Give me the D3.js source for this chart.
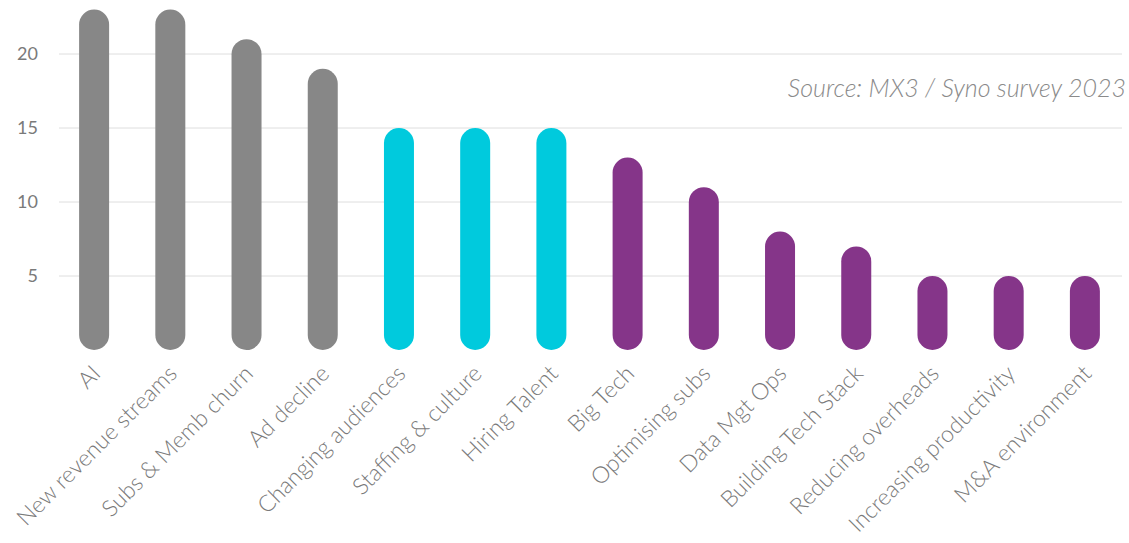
<!DOCTYPE html>
<html>
<head>
<meta charset="utf-8">
<script src="https://cdn.jsdelivr.net/npm/d3@7"></script>
<style>
  body { margin: 0; background: #ffffff; }
  svg { display: block; font-family: Lato, "Open Sans", sans-serif; }
</style>
</head>
<body>
<svg id="chart"></svg>
<script>
// chart data
const categories = ['AI', 'New revenue streams', 'Subs & Memb churn', 'Ad decline',
    'Changing audiences', 'Staffing & culture', 'Hiring Talent', 'Big Tech',
    'Optimising subs', 'Data Mgt Ops', 'Building Tech Stack', 'Reducing overheads',
    'Increasing productivity', 'M&A environment'];
const values = [23, 23, 21, 19, 15, 15, 15, 13, 11, 8, 7, 5, 5, 5];
const groups = ['grey', 'grey', 'grey', 'grey', 'cyan', 'cyan', 'cyan',
    'purple', 'purple', 'purple', 'purple', 'purple', 'purple', 'purple'];
const yticks = [5, 10, 15, 20];
const source_text = 'Source: MX3 / Syno survey 2023';

const width = 1129, height = 543;
const colors = { grey: '#878787', cyan: '#00cadd', purple: '#853589' };

const svg = d3.select('#chart')
    .attr('width', width)
    .attr('height', height);

const xscale = d3.scaleBand()
    .domain(categories)
    .range([56, 1123])
    .paddingInner(0.6)
    .paddingOuter(0.3);

const yscale = d3.scaleLinear()
    .domain([0, 20])
    .range([350, 54]);

// gridlines
svg.append('g')
    .selectAll('line')
    .data(yticks)
    .join('line')
    .attr('x1', 59)
    .attr('x2', 1122)
    .attr('y1', d => yscale(d))
    .attr('y2', d => yscale(d))
    .attr('stroke', '#dedede')
    .attr('stroke-width', 1);

// y axis labels
const yaxis = d3.axisLeft(yscale)
    .tickValues(yticks)
    .tickSize(0)
    .tickPadding(0);

const yaxis_group = svg.append('g')
    .attr('transform', 'translate(38, 0)')
    .call(yaxis);
yaxis_group.select('.domain').remove();
yaxis_group.selectAll('text')
    .style('font-size', '18px')
    .style('font-family', 'Lato, sans-serif')
    .attr('fill', '#7a7a7a');

// pill bars
const bw = 30;
svg.append('g')
    .selectAll('rect')
    .data(values)
    .join('rect')
    .attr('x', (d, i) => xscale(categories[i]) + xscale.bandwidth() / 2 - bw / 2)
    .attr('y', d => yscale(d))
    .attr('width', bw)
    .attr('height', d => yscale(0) - yscale(d))
    .attr('rx', bw / 2)
    .attr('ry', bw / 2)
    .attr('fill', (d, i) => colors[groups[i]]);

// category labels
svg.append('g')
    .selectAll('text')
    .data(categories)
    .join('text')
    .attr('transform', d => `translate(${xscale(d) + xscale.bandwidth() / 2 + 8}, 375) rotate(-45)`)
    .attr('text-anchor', 'end')
    .style('font-size', '23px')
    .style('font-weight', 300)
    .attr('fill', '#7a7a7a')
    .text(d => d);

// source note
svg.append('text')
    .attr('x', 1126)
    .attr('y', 97)
    .attr('text-anchor', 'end')
    .style('font-size', '25px')
    .style('font-style', 'italic')
    .style('font-weight', 300)
    .attr('fill', '#8a8a8a')
    .text(source_text);
</script>
</body>
</html>
